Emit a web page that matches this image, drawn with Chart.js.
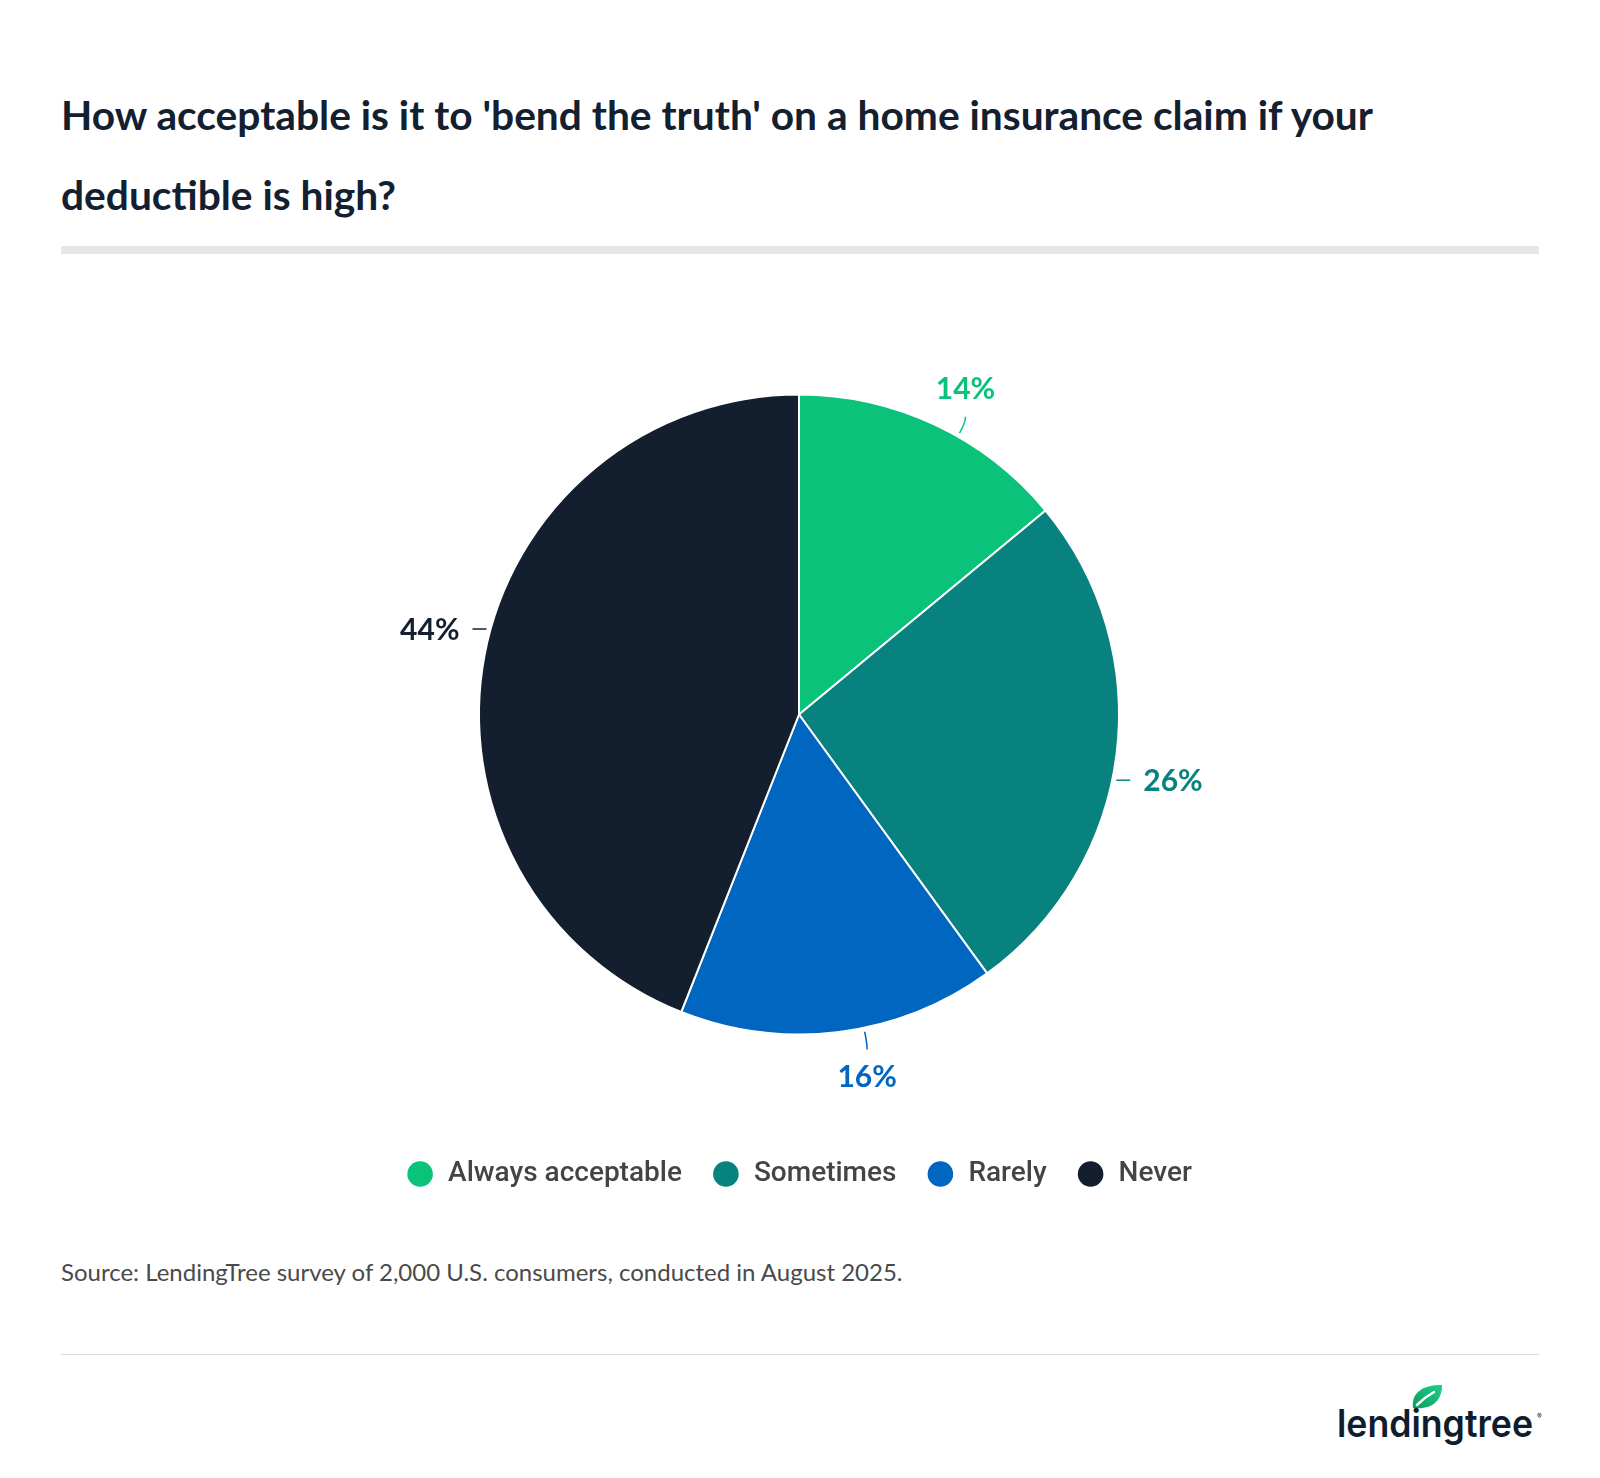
<!DOCTYPE html>
<html>
<head>
<meta charset="utf-8">
<script src="https://cdn.jsdelivr.net/npm/chart.js@4.4.0/dist/chart.umd.min.js"></script>
<style>
  html, body { margin: 0; padding: 0; background: #ffffff; }
  body { width: 1600px; height: 1478px; position: relative; overflow: hidden; font-family: Lato, sans-serif; }
  #title { position: absolute; left: 61px; top: 75px; margin: 0; font: 700 40.7px Lato, sans-serif; line-height: 80px; color: #13202f; width: 1500px; }
  #bar { position: absolute; left: 61px; top: 246px; width: 1478px; height: 8px; background: #e6e6e6; }
  #wrap { position: absolute; left: 0; top: 280px; width: 1600px; height: 918px; }
  #source { position: absolute; left: 61px; top: 1258px; margin: 0; font: 400 24px Lato, sans-serif; color: #4a4a4a; line-height: 1.2; }
  #rule { position: absolute; left: 61px; top: 1354px; width: 1478px; height: 1px; background: #d9d9d9; }
  #logo { position: absolute; left: 1330px; top: 1375px; }
</style>
</head>
<body>
<h1 id="title">How acceptable is it to 'bend the truth' on a home insurance claim if your<br>deductible is high?</h1>
<div id="bar"></div>
<div id="wrap"><canvas id="chart"></canvas></div>
<p id="source">Source: LendingTree survey of 2,000 U.S. consumers, conducted in August 2025.</p>
<div id="rule"></div>
<svg id="logo" width="220" height="80" viewBox="0 0 220 80">
  <defs>
    <linearGradient id="leafg" x1="0" y1="1" x2="1" y2="0">
      <stop offset="0" stop-color="#0a9c60"/>
      <stop offset="1" stop-color="#22cf86"/>
    </linearGradient>
  </defs>
  <path d="M83,33 C81,18 92,10 112,10 C112,26 102,35 83,33 Z" fill="url(#leafg)"/>
  <path d="M87,30 Q95,22 104,17" stroke="#ffffff" stroke-width="2.5" fill="none" stroke-linecap="round"/>
  <text x="7" y="62" font-family="Inter, 'Noto Sans', sans-serif" font-weight="600" font-size="38" fill="#0f1d2c" textLength="196" lengthAdjust="spacingAndGlyphs">lendingtree</text>
  <text x="207" y="44" font-family="Inter, sans-serif" font-size="7" fill="#0f1d2c">®</text>
</svg>

<script>
// ---- data ----
const categories = ['Always acceptable', 'Sometimes', 'Rarely', 'Never'];
const values = [14, 26, 16, 44];
const sliceColors = ['#0bc27a', '#08827e', '#0066bf', '#131f2e'];
const valueSuffix = '%';

// ---- outside labels with short leader lines ----
const outLabels = {
  id: 'outLabels',
  afterDatasetsDraw(chart) {
    const ctx = chart.ctx;
    const meta = chart.getDatasetMeta(0);
    const fontSize = 30;
    const cap = fontSize * 0.72;
    const nudge = 4.5 * Math.PI / 180;
    meta.data.forEach((arc, i) => {
      const p = arc.getProps(['x', 'y', 'startAngle', 'endAngle', 'outerRadius'], true);
      let mid = (p.startAngle + p.endAngle) / 2;
      // push the label a little away from the nearest axis
      const q = Math.round(mid / (Math.PI / 2)) * (Math.PI / 2);
      mid += (mid - q >= 0 ? 1 : -1) * nudge;
      const c = Math.cos(mid), s = Math.sin(mid);
      const text = chart.data.datasets[0].data[i] + valueSuffix;
      const color = chart.data.datasets[0].backgroundColor[i];
      ctx.save();
      ctx.strokeStyle = color;
      ctx.fillStyle = color;
      ctx.lineWidth = 1.5;
      ctx.font = '700 ' + fontSize + 'px Lato, sans-serif';
      ctx.textBaseline = 'alphabetic';
      const sx = p.x + c * (p.outerRadius + 4);
      const sy = p.y + s * (p.outerRadius + 4);
      if (Math.abs(c) >= Math.abs(s)) {
        const dir = c >= 0 ? 1 : -1;
        ctx.beginPath();
        ctx.moveTo(sx, sy);
        ctx.lineTo(sx + dir * 14, sy);
        ctx.stroke();
        ctx.textAlign = dir > 0 ? 'left' : 'right';
        ctx.fillText(text, sx + dir * 27, sy + cap / 2);
      } else {
        const dir = s >= 0 ? 1 : -1;
        const cx = sx + c * 12, cy = sy + s * 12;
        const ex = cx, ey = cy + dir * 6;
        ctx.beginPath();
        ctx.moveTo(sx, sy);
        ctx.quadraticCurveTo(cx, cy, ex, ey);
        ctx.stroke();
        ctx.textAlign = 'center';
        if (dir > 0) {
          ctx.fillText(text, ex, ey + 16 + cap);
        } else {
          ctx.fillText(text, ex, ey - 18);
        }
      }
      ctx.restore();
    });
  }
};

new Chart(document.getElementById('chart'), {
  type: 'pie',
  data: {
    labels: categories,
    datasets: [{
      data: values,
      backgroundColor: sliceColors,
      borderColor: '#ffffff',
      borderWidth: 2,
      radius: 320
    }]
  },
  options: {
    responsive: true,
    maintainAspectRatio: false,
    animation: false,
    events: [],
    layout: { padding: { top: 19, bottom: 0, left: 0, right: 2 } },
    plugins: {
      tooltip: { enabled: false },
      title: { display: false },
      legend: {
        display: true,
        position: 'bottom',
        align: 'center',
        labels: {
          usePointStyle: true,
          pointStyle: 'circle',
          boxWidth: 28,
          boxHeight: 19.5,
          padding: 30,
          color: '#444444',
          font: { family: 'Roboto, sans-serif', size: 28, weight: '500' }
        }
      }
    }
  },
  plugins: [outLabels]
});
</script>
</body>
</html>
